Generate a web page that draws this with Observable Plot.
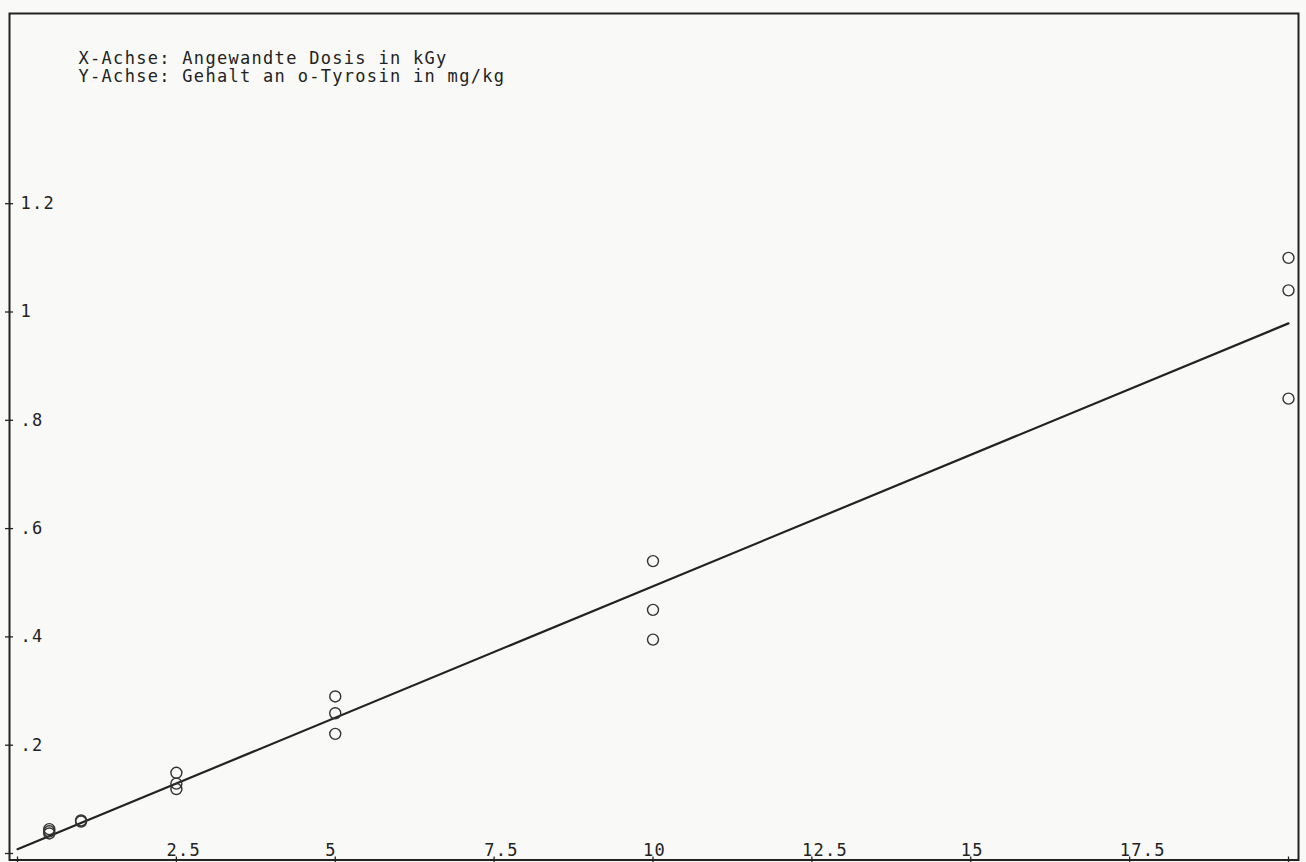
<!DOCTYPE html>
<html><head><meta charset="utf-8">
<script src="https://cdn.jsdelivr.net/npm/d3@7"></script>
<script src="https://cdn.jsdelivr.net/npm/@observablehq/plot@0.6"></script>
<style>
html,body{margin:0;padding:0;background:#f9f9f7;}
#chart svg{display:block;}
#chart svg text{letter-spacing:1.3px;}
</style></head><body><div id="chart"></div>
<script>
const titleLines = ["X-Achse: Angewandte Dosis in kGy", "Y-Achse: Gehalt an o-Tyrosin in mg/kg"];
const doses   = [0.5, 0.5, 0.5, 1, 1, 2.5, 2.5, 2.5, 5, 5, 5, 10, 10, 10, 20, 20, 20];
const tyrosin = [0.045, 0.041, 0.037, 0.061, 0.059, 0.149, 0.129, 0.119, 0.290, 0.259, 0.221, 0.540, 0.450, 0.395, 1.100, 1.040, 0.840];
const fitDose = [0, 20];
const fitTyrosin = [0.008, 0.979];
const xTicks = [0, 2.5, 5, 7.5, 10, 12.5, 15, 17.5, 20];
const xTickLabels = [2.5, 5, 7.5, 10, 12.5, 15, 17.5];
const yTicks = [0, 0.2, 0.4, 0.6, 0.8, 1, 1.2];
const yTickLabels = [0.2, 0.4, 0.6, 0.8, 1, 1.2];

const points = doses.map((d, i) => ({dose: d, tyr: tyrosin[i]}));
const fit = fitDose.map((d, i) => ({dose: d, tyr: fitTyrosin[i]}));
const fmtY = d => d < 1 ? String(d).slice(1) : String(d);
const ink = "#222";

const chart = Plot.plot({
  width: 1306,
  height: 862,
  marginTop: 13,
  marginRight: 8,
  marginBottom: 2.5,
  marginLeft: 9,
  style: {fontFamily: "'DejaVu Sans Mono', monospace", fontSize: "17px", background: "transparent", color: ink},
  x: {domain: [0, 20], range: [17, 1288]},
  y: {domain: [0, 1.2], range: [853, 203.2]},
  marks: [
    Plot.frame({stroke: ink, strokeWidth: 2}),
    Plot.axisX(xTicks, {anchor: "bottom", tickSize: 6, dy: -3, tickFormat: () => "", label: null, stroke: ink, strokeWidth: 1.3}),
    Plot.axisY(yTicks, {anchor: "left", tickSize: 8, dx: 4, tickFormat: () => "", label: null, stroke: ink, strokeWidth: 1.3}),
    Plot.text(xTickLabels, {x: d => d, frameAnchor: "bottom", text: d => String(d), textAnchor: "start", lineAnchor: "bottom", dx: -10, dy: -4.5, fill: ink}),
    Plot.text(yTickLabels, {y: d => d, frameAnchor: "left", text: fmtY, textAnchor: "start", lineAnchor: "middle", dx: 11, fill: ink}),
    Plot.text([titleLines[0]], {frameAnchor: "top-left", text: d => d, textAnchor: "start", lineAnchor: "bottom", dx: 69, dy: 50, fill: ink}),
    Plot.text([titleLines[1]], {frameAnchor: "top-left", text: d => d, textAnchor: "start", lineAnchor: "bottom", dx: 69, dy: 68, fill: ink}),
    Plot.line(fit, {x: "dose", y: "tyr", stroke: ink, strokeWidth: 2.2}),
    Plot.dot(points, {x: "dose", y: "tyr", r: 5.5, stroke: "#333", strokeWidth: 1.4, fill: "none"})
  ]
});
document.getElementById("chart").appendChild(chart);
</script>
</body></html>
